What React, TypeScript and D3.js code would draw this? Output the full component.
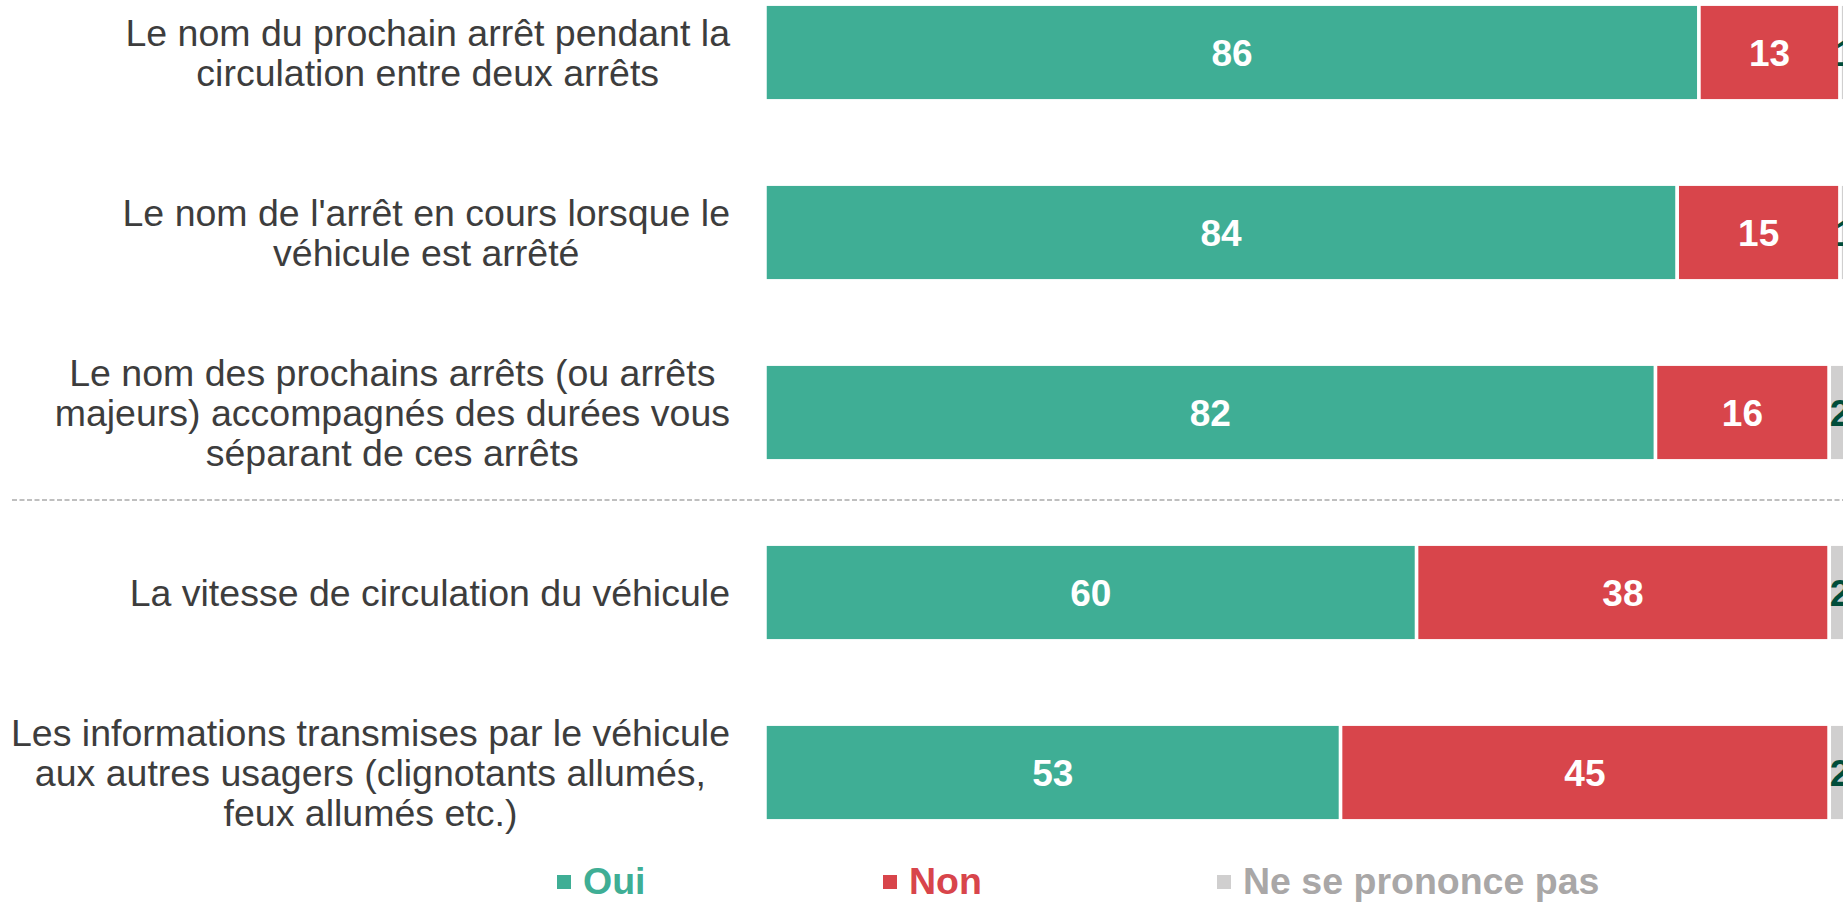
import React, { useMemo } from 'react';
import * as d3 from 'd3';

const categories = [
  ['Le nom du prochain arrêt pendant la', 'circulation entre deux arrêts'],
  ["Le nom de l'arrêt en cours lorsque le", 'véhicule est arrêté'],
  ['Le nom des prochains arrêts (ou arrêts', 'majeurs) accompagnés des durées vous', 'séparant de ces arrêts'],
  ['La vitesse de circulation du véhicule'],
  ['Les informations transmises par le véhicule', 'aux autres usagers (clignotants allumés,', 'feux allumés etc.)'],
];
const oui = [86, 84, 82, 60, 53];
const non = [13, 15, 16, 38, 45];
const nsp = [1, 1, 2, 2, 2];
const seriesNames = ['Oui', 'Non', 'Ne se prononce pas'];

const W = 1843, H = 904;
const FONT = "'Liberation Sans', Arial, sans-serif";
const barColors = ['#3fae95', '#d8454b', '#d0cfcf'];
const valueColors = ['#ffffff', '#ffffff', '#004d3a'];
const legendText = ['#3fae95', '#d8454b', '#a9a7a7'];

const labelSize = 37.5;
const labelRight = 730;

function measure(txt: string, font: string) {
  const c = document.createElement('canvas').getContext('2d');
  if (!c) return txt.length * 18;
  c.font = font;
  return c.measureText(txt).width;
}

export default function App() {
  const rows = categories.map((lines, i) => ({ key: String(i), Oui: oui[i], Non: non[i], NSP: nsp[i] }));
  const stack = d3.stack<any>().keys(['Oui', 'Non', 'NSP'])(rows);

  const x = d3.scaleLinear().domain([0, 100]).range([765, 1851]);
  const y = d3.scaleBand<string>()
    .domain(rows.map((r) => r.key))
    .range([-37.5, 862.5])
    .paddingInner(0.463)
    .paddingOuter(0.2315);

  const widths = useMemo(
    () => categories.map((lines) => d3.max(lines, (l) => measure(l, `${labelSize}px 'Liberation Sans'`)) || 0),
    []
  );

  const legendX = [557, 883, 1217];
  const legendY = 894;

  return (
    <svg width={W} height={H} style={{ position: 'absolute', left: 0, top: 0, background: '#fff' }} fontFamily={FONT}>
      {/* row labels, each block centred on its widest line */}
      {categories.map((lines, i) => {
        const cy = (y(String(i)) || 0) + y.bandwidth() / 2;
        const cx = labelRight - widths[i] / 2;
        return (
          <text key={'l' + i} x={cx} textAnchor="middle" fontSize={labelSize} fill="#3d3d3d">
            {lines.map((ln, j) => (
              <tspan key={j} x={cx} y={cy + (j - (lines.length - 1) / 2) * 40 + 13}>
                {ln}
              </tspan>
            ))}
          </text>
        );
      })}

      {/* separator */}
      <line x1={12} x2={W} y1={500} y2={500} stroke="#aaaaaa" strokeWidth={1.5} strokeDasharray="5,2.5" />

      {stack.map((layer, si) => (
        <g key={layer.key} fill={barColors[si]}>
          {layer.map((d, i) => {
            const y0 = y(String(i)) || 0;
            return (
              <g key={i}>
                <rect
                  x={x(d[0])}
                  y={y0}
                  width={x(d[1]) - x(d[0])}
                  height={y.bandwidth()}
                  stroke="#fff"
                  strokeWidth={3.5}
                />
                <text
                  x={(x(d[0]) + x(d[1])) / 2}
                  y={y0 + y.bandwidth() / 2 + 13}
                  textAnchor="middle"
                  fontSize={37}
                  fontWeight="bold"
                  fill={valueColors[si]}
                >
                  {d[1] - d[0]}
                </text>
              </g>
            );
          })}
        </g>
      ))}

      {/* legend */}
      {seriesNames.map((name, i) => (
        <g key={name}>
          <rect x={legendX[i]} y={legendY - 19} width={14} height={14} fill={barColors[i]} />
          <text x={legendX[i] + 26} y={legendY} fontSize={37.5} fontWeight="bold" fill={legendText[i]}>
            {name}
          </text>
        </g>
      ))}
    </svg>
  );
}
